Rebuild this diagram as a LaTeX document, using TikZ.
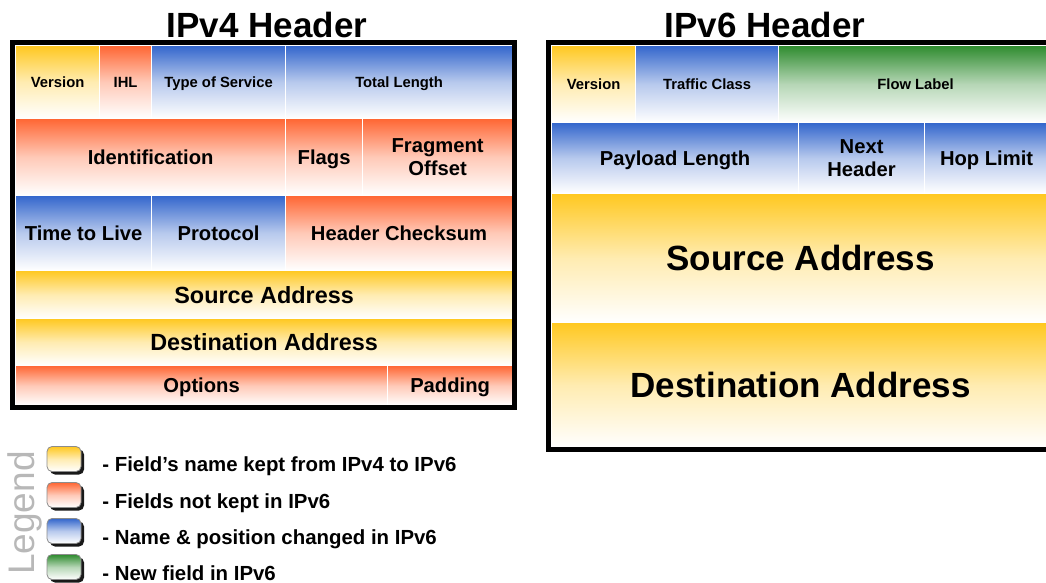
\documentclass[tikz,border=0pt]{standalone}
\usepackage{fontspec}
\setmainfont{Liberation Sans}
\usetikzlibrary{positioning,shadows}
\definecolor{keepc}{HTML}{FFC820}
\definecolor{dropc}{HTML}{FF6633}
\definecolor{movec}{HTML}{3366CC}
\definecolor{freshc}{HTML}{2E8B2E}
\begin{document}
\begin{tikzpicture}[x =0.5pt ,y =-0.5pt ,
field/.style ={rectangle ,draw =white ,line width =0.6pt ,anchor =north west ,inner sep =0pt ,align =center ,
text depth =0pt ,font =\bfseries\fontsize{10.1}{11.5}\selectfont},
small/.style ={font =\bfseries\fontsize{7.4}{9}\selectfont},
addr/.style ={font =\bfseries\fontsize{11.7}{13}\selectfont},
big/.style ={font =\bfseries\fontsize{17.5}{20}\selectfont},
kept/.style ={top color =keepc ,bottom color =white ,middle color =keepc!35!white},
dropped/.style ={top color =dropc ,bottom color =white ,middle color =dropc!35!white},
moved/.style ={top color =movec ,bottom color =white ,middle color =movec!35!white},
fresh/.style ={top color =freshc ,bottom color =white ,middle color =freshc!35!white},
frame/.style ={draw =black ,line width =2.5pt},
swatch/.style ={rectangle ,rounded corners =2.5pt ,draw =black!45 ,minimum width =17pt ,minimum height =12.5pt ,
drop shadow ={shadow xshift =1.5pt ,shadow yshift =-1.5pt ,fill =black ,opacity =0.9}},
legtext/.style ={anchor =base west ,inner sep =0pt ,font =\bfseries\fontsize{10.2}{12}\selectfont}]
\useasboundingbox (0,0) rectangle (1046,583);
\clip (0,0) rectangle (1046,583);
\node[big] (t4) at (267,25) {IPv4 Header};
\node[big] (t6) at (765,25) {IPv6 Header};
\node[field ,small ,kept ,minimum width =42pt ,minimum height =36.5pt] (v4ver) at (15,45) {Version};
\node[field ,small ,dropped ,minimum width =26pt ,minimum height =36.5pt] (ihl) at (99,45) {IHL};
\node[field ,small ,moved ,minimum width =67pt ,minimum height =36.5pt] (tos) at (151,45) {Type of Service};
\node[field ,small ,moved ,minimum width =113.5pt ,minimum height =36.5pt] (totlen) at (285,45) {Total Length};
\node[field ,dropped ,minimum width =135pt ,minimum height =38.5pt] (ident) at (15,118) {Identification};
\node[field ,dropped ,minimum width =38.5pt ,minimum height =38.5pt] (flags) at (285,118) {Flags};
\node[field ,dropped ,minimum width =75pt ,minimum height =38.5pt] (fragoff) at (362,118) {Fragment\\Offset};
\node[field ,moved ,minimum width =68pt ,minimum height =37.5pt] (ttl) at (15,195) {Time to Live};
\node[field ,moved ,minimum width =67pt ,minimum height =37.5pt] (proto) at (151,195) {Protocol};
\node[field ,dropped ,minimum width =113.5pt ,minimum height =37.5pt] (chksum) at (285,195) {Header Checksum};
\node[field ,addr ,kept ,minimum width =248.5pt ,minimum height =24pt] (src4) at (15,270) {Source Address};
\node[field ,addr ,kept ,minimum width =248.5pt ,minimum height =23.5pt] (dst4) at (15,318) {Destination Address};
\node[field ,dropped ,minimum width =186pt ,minimum height =20pt] (opts) at (15,365) {Options};
\node[field ,dropped ,minimum width =62.5pt ,minimum height =20pt] (pad) at (387,365) {Padding};
\draw[frame] (12.5,42.5) rectangle (514.5,407.5);
\node[field ,small ,kept ,minimum width =42pt ,minimum height =38.5pt] (v6ver) at (551,45) {Version};
\node[field ,small ,moved ,minimum width =71.5pt ,minimum height =38.5pt] (tclass) at (635,45) {Traffic Class};
\node[field ,small ,fresh ,minimum width =137pt ,minimum height =38.5pt] (flow) at (778,45) {Flow Label};
\node[field ,moved ,minimum width =123.5pt ,minimum height =35.5pt] (paylen) at (551,122) {Payload Length};
\node[field ,moved ,minimum width =63pt ,minimum height =35.5pt] (nexthdr) at (798,122) {Next\\Header};
\node[field ,moved ,minimum width =62pt ,minimum height =35.5pt] (hoplim) at (924,122) {Hop Limit};
\node[field ,big ,kept ,minimum width =249pt ,minimum height =64.5pt] (src6) at (551,193) {Source Address};
\node[field ,big ,kept ,minimum width =249pt ,minimum height =62.5pt] (dst6) at (551,322) {Destination Address};
\draw[frame] (548.5,42.5) rectangle (1052,449.5);
\node[rotate =90 ,text =black!28 ,font =\fontsize{18.5}{20}\selectfont] (legend) at (25,513) {Legend};
\node[swatch ,kept] (s1) at (64,459) {};
\node[swatch ,dropped] (s2) at (64,495) {};
\node[swatch ,moved] (s3) at (64,531) {};
\node[swatch ,fresh] (s4) at (64,567) {};
\node[legtext] (l1) at (102,472) {- Field's name kept from IPv4 to IPv6};
\node[legtext] (l2) at (102,508) {- Fields not kept in IPv6};
\node[legtext] (l3) at (102,544) {- Name \& position changed in IPv6};
\node[legtext] (l4) at (102,580) {- New field in IPv6};
\end{tikzpicture}
\end{document}
